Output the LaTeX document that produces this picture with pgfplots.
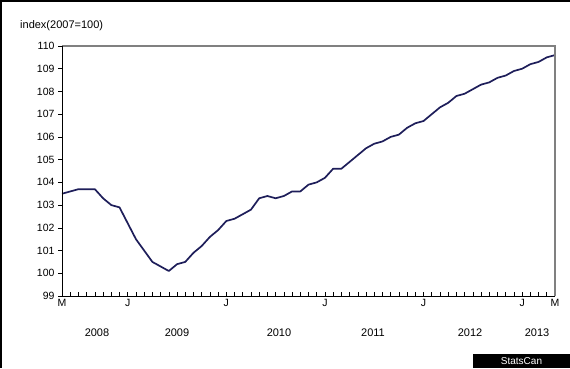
\documentclass[border=0pt]{standalone}
\usepackage{pgfplots}
\pgfplotsset{compat=1.18}
\usepackage{fontspec}
\setmainfont{Liberation Sans}
\definecolor{navy}{HTML}{1E1E5A}
\definecolor{framegray}{HTML}{808080}
\begin{document}
\begin{tikzpicture}[x=1pt,y=1pt]
\useasboundingbox (0,0) rectangle (570,368);
\fill[white] (0,0) rectangle (570,368);
\draw[black, line width=1.5pt] (0.75,0) -- (0.75,367.25) -- (570,367.25);
\node[anchor=base west, inner sep=0pt, font=\fontsize{11}{13}\selectfont] at (20,340) {index(2007=100)};
\begin{axis}[
  at={(62pt,72pt)}, anchor=south west,
  scale only axis, width=493pt, height=250pt,
  xmin=0, xmax=60, ymin=99, ymax=110,
  axis line style={draw=none},
  ytick={99,...,110},
  xtick={0,8,20,32,44,56,60},
  xticklabels={M,J,J,J,J,J,M},
  minor xtick={0,...,60},
  xtick pos=bottom, ytick pos=left,
  xtick align=inside, ytick align=outside,
  major tick length=4pt, minor tick length=4pt,
  tick style={black, line width=0.6pt},
  minor tick style={black, line width=0.6pt},
  /pgf/number format/assume math mode=true,
  ticklabel style={font=\fontsize{10.5}{12}\selectfont},
  clip=false,
]
\addplot[navy, line width=1.7pt, line join=round] coordinates {
(0,103.5) (1,103.6) (2,103.7) (3,103.7) (4,103.7) (5,103.3) (6,103.0) (7,102.9)
(8,102.2) (9,101.5) (10,101.0) (11,100.5) (12,100.3) (13,100.1) (14,100.4) (15,100.5)
(16,100.9) (17,101.2) (18,101.6) (19,101.9) (20,102.3) (21,102.4) (22,102.6) (23,102.8)
(24,103.3) (25,103.4) (26,103.3) (27,103.4) (28,103.6) (29,103.6) (30,103.9) (31,104.0)
(32,104.2) (33,104.6) (34,104.6) (35,104.9) (36,105.2) (37,105.5) (38,105.7) (39,105.8)
(40,106.0) (41,106.1) (42,106.4) (43,106.6) (44,106.7) (45,107.0) (46,107.3) (47,107.5)
(48,107.8) (49,107.9) (50,108.1) (51,108.3) (52,108.4) (53,108.6) (54,108.7) (55,108.9)
(56,109.0) (57,109.2) (58,109.3) (59,109.5) (60,109.6)
};
\draw[framegray, line width=1.2pt] (rel axis cs:0,1) -- (rel axis cs:1,1) -- (rel axis cs:1,0);
\draw[black, line width=0.8pt] (rel axis cs:0,1) -- (rel axis cs:0,0) -- (rel axis cs:1,0);
\end{axis}
\begin{scope}[every node/.style={font=\fontsize{11}{13}\selectfont}]
\node at (97,35) {2008};
\node at (177,35) {2009};
\node at (279,35) {2010};
\node at (373,35) {2011};
\node at (470,35) {2012};
\node at (537,35) {2013};
\end{scope}
\fill[black] (473,0) rectangle (570,14);
\node[white, font=\fontsize{10}{12}\selectfont] at (521.5,7) {StatsCan};
\end{tikzpicture}
\end{document}
